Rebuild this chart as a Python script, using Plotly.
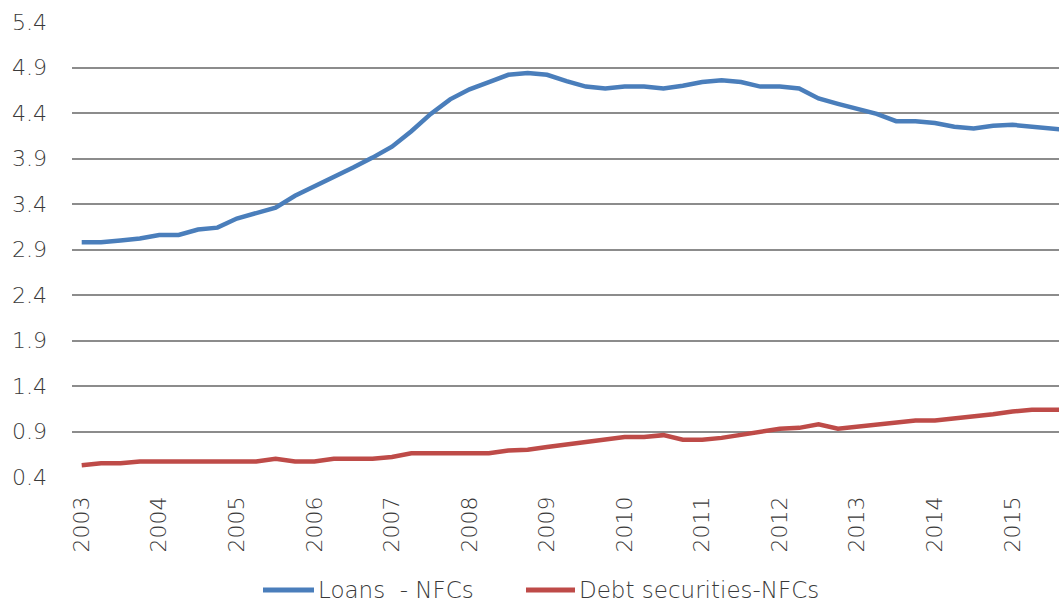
import plotly.graph_objects as go

quarters = [f"{y}Q{q}" for y in range(2003, 2016) for q in range(1, 5)]

loans_nfc = [
    2.98, 2.98, 3.00, 3.02,   # 2003
    3.06, 3.06, 3.12, 3.14,   # 2004
    3.24, 3.30, 3.36, 3.49,   # 2005
    3.59, 3.70, 3.80, 3.91,   # 2006
    4.03, 4.20, 4.39, 4.55,   # 2007
    4.66, 4.74, 4.82, 4.84,   # 2008
    4.82, 4.75, 4.69, 4.67,   # 2009
    4.69, 4.69, 4.67, 4.70,   # 2010
    4.74, 4.76, 4.74, 4.69,   # 2011
    4.69, 4.67, 4.56, 4.50,   # 2012
    4.44, 4.39, 4.31, 4.31,   # 2013
    4.29, 4.25, 4.23, 4.26,   # 2014
    4.27, 4.25, 4.23, 4.21,   # 2015
]

debt_sec_nfc = [
    0.53, 0.55, 0.55, 0.57,   # 2003
    0.57, 0.57, 0.57, 0.57,   # 2004
    0.57, 0.57, 0.60, 0.57,   # 2005
    0.57, 0.60, 0.60, 0.60,   # 2006
    0.62, 0.66, 0.66, 0.66,   # 2007
    0.66, 0.66, 0.69, 0.70,   # 2008
    0.73, 0.76, 0.78, 0.81,   # 2009
    0.84, 0.84, 0.86, 0.81,   # 2010
    0.81, 0.83, 0.86, 0.89,   # 2011
    0.93, 0.94, 0.98, 0.93,   # 2012
    0.95, 0.98, 1.00, 1.02,   # 2013
    1.02, 1.04, 1.06, 1.09,   # 2014
    1.12, 1.14, 1.14, 1.14,   # 2015
]

series_names = ["Loans  - NFCs", "Debt securities-NFCs"]
series_colors = ["#4A7EBB", "#BE4B48"]

year_labels = [str(y) for y in range(2003, 2016)]
y_ticks = [0.4, 0.9, 1.4, 1.9, 2.4, 2.9, 3.4, 3.9, 4.4, 4.9, 5.4]

x_idx = list(range(len(quarters)))
year_tick_pos = [quarters.index(f"{y}Q1") for y in range(2003, 2016)]

FONT = "DejaVu Sans"
TXT = "#3A3A3A"
tick_font = dict(family=FONT, size=22, color=TXT, weight=200)
legend_font = dict(family=FONT, size=23, color=TXT, weight=200)

W, H = 1059, 603
ML, MR, MT, MB = 72, 0, 22, 126
PW, PH = W - ML - MR, H - MT - MB


def px_x(px):
    return (px - ML) / PW


def px_y(py):
    return (H - MB - py) / PH


fig = go.Figure()
for vals, name, col in zip([loans_nfc, debt_sec_nfc], series_names, series_colors):
    fig.add_trace(go.Scatter(
        x=x_idx, y=vals, mode="lines", name=name,
        line=dict(color=col, width=4.5), showlegend=False,
        customdata=quarters, hovertemplate="%{customdata}: %{y}<extra></extra>",
    ))

# custom legend (long line samples as in the reference)
LEG_Y = 590
legend_items = [(263, 314, 317), (526, 575, 578)]
for (x0, x1, xt), name, col in zip(legend_items, series_names, series_colors):
    fig.add_shape(type="line", xref="paper", yref="paper",
                  x0=px_x(x0), x1=px_x(x1), y0=px_y(LEG_Y), y1=px_y(LEG_Y),
                  line=dict(color=col, width=5))
    fig.add_annotation(xref="paper", yref="paper", x=px_x(xt), y=px_y(LEG_Y),
                       xanchor="left", yanchor="middle", text=name,
                       showarrow=False, font=legend_font, borderpad=0)

fig.update_layout(
    width=W, height=H,
    margin=dict(l=ML, r=MR, t=MT, b=MB, autoexpand=False),
    plot_bgcolor="white", paper_bgcolor="white",
    font=dict(family=FONT, size=22, color=TXT, weight=200),
    showlegend=False,
)
fig.update_xaxes(
    range=[-0.5, 50.4],
    tickmode="array", tickvals=year_tick_pos, ticktext=year_labels,
    tickangle=-90, showgrid=False, zeroline=False, showline=False,
    ticks="", ticklabelstandoff=14, automargin=False,
    tickfont=tick_font,
)
fig.update_yaxes(
    range=[0.4, 5.4],
    tickmode="array", tickvals=y_ticks, ticktext=[f"{v:.1f}" for v in y_ticks],
    showgrid=True, gridcolor="#8C8C8C", gridwidth=1.5,
    zeroline=False, showline=False, ticks="", ticklabelstandoff=24,
    automargin=False, tickfont=tick_font,
)

fig.write_html(
    "out.html",
    config={"displayModeBar": False},
    post_script="document.body.style.margin='0';document.body.style.overflow='hidden';",
)
